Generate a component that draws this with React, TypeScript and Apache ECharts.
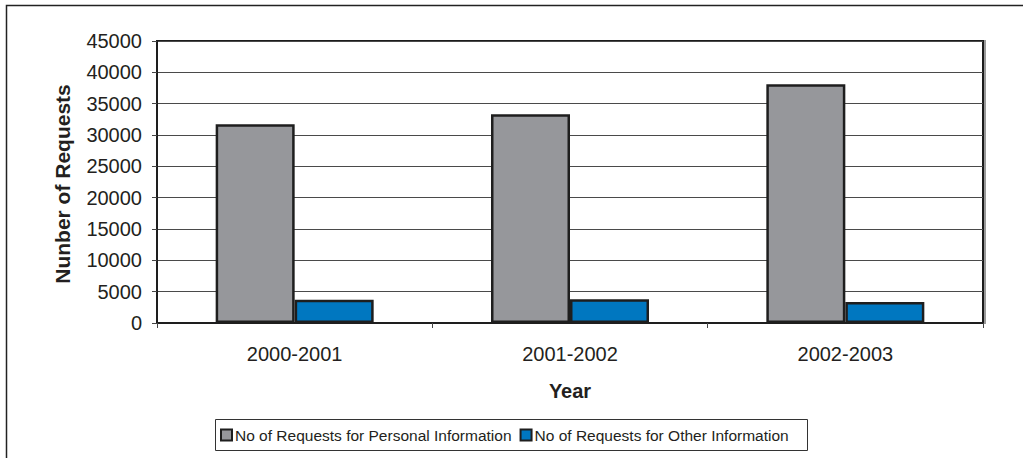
import React, { useEffect, useRef } from "react";
import * as echarts from "echarts";

const years = ["2000-2001", "2001-2002", "2002-2003"];
const personalRequests = [31700, 33300, 38100];
const otherRequests = [3700, 3800, 3350];
const seriesNames = [
  "No of Requests for Personal Information",
  "No of Requests for Other Information",
];

const FONT = "'Liberation Sans', Arial, Helvetica, sans-serif";
const INK = "#231f20";
const EDGE = "#1e1e1e";

export default function App() {
  const ref = useRef<HTMLDivElement>(null);

  useEffect(() => {
    if (!ref.current) return;
    const chart = echarts.init(ref.current, null, { renderer: "svg" });
    chart.setOption({
      animation: false,
      backgroundColor: "#ffffff",
      textStyle: { fontFamily: FONT, color: INK },
      grid: {
        left: 157,
        right: 40,
        top: 41,
        bottom: 135,
        show: true,
        backgroundColor: "#ffffff",
        borderColor: EDGE,
        borderWidth: 2,
        shadowColor: "#9a9a9a",
        shadowOffsetX: 2,
        shadowOffsetY: 0,
        shadowBlur: 0,
      },
      legend: {
        left: 220,
        top: 427,
        itemWidth: 11,
        itemHeight: 11,
        itemGap: 8,
        icon: "rect",
        padding: 0,
        itemStyle: { borderColor: EDGE, borderWidth: 2 },
        textStyle: { fontFamily: FONT, fontSize: 15.5, color: INK, padding: [0, 0, 0, -2] },
        data: seriesNames,
      },
      xAxis: {
        type: "category",
        data: years,
        boundaryGap: true,
        axisLine: { show: true, lineStyle: { color: EDGE, width: 2 } },
        axisTick: { show: true, length: 5, alignWithLabel: false, lineStyle: { color: "#444444", width: 1 } },
        axisLabel: { fontFamily: FONT, fontSize: 20, color: INK, margin: 21 },
        splitLine: { show: false },
      },
      yAxis: {
        type: "value",
        min: 0,
        max: 45000,
        interval: 5000,
        axisLine: { show: true, lineStyle: { color: EDGE, width: 2 } },
        axisTick: { show: true, length: 5, lineStyle: { color: "#444444", width: 1 } },
        axisLabel: {
          fontFamily: FONT,
          fontSize: 20,
          color: INK,
          margin: 15,
          formatter: (v: number) => String(v),
        },
        splitLine: { show: true, lineStyle: { color: "#4a4a4a", width: 1 } },
      },
      series: [
        {
          name: seriesNames[0],
          type: "bar",
          data: personalRequests,
          barWidth: 79,
          barGap: "0%",
          itemStyle: { color: "#96979b", borderColor: EDGE, borderWidth: 2.5 },
        },
        {
          name: seriesNames[1],
          type: "bar",
          data: otherRequests,
          barWidth: 79,
          barGap: "0%",
          itemStyle: { color: "#0077c0", borderColor: EDGE, borderWidth: 2.5 },
        },
      ],
      graphic: [
        {
          type: "rect",
          shape: { x: 6.5, y: 5.5, width: 1030, height: 470 },
          style: { fill: "none", stroke: "#222222", lineWidth: 1.5 },
          silent: true,
        },
        {
          type: "rect",
          shape: { x: 215.5, y: 419.5, width: 592, height: 31 },
          style: { fill: "none", stroke: "#333333", lineWidth: 1 },
          silent: true,
        },
        {
          type: "text",
          x: 62,
          y: 184,
          rotation: Math.PI / 2,
          style: {
            text: "Nunber of Requests",
            font: `bold 21px ${FONT}`,
            fill: INK,
            align: "center",
            verticalAlign: "middle",
          },
        },
        {
          type: "text",
          x: 570,
          y: 391,
          style: {
            text: "Year",
            font: `bold 20px ${FONT}`,
            fill: INK,
            align: "center",
            verticalAlign: "middle",
          },
        },
      ],
    });
    return () => chart.dispose();
  }, []);

  return (
    <div
      ref={ref}
      style={{ position: "fixed", left: 0, top: 0, width: 1023, height: 458 }}
    />
  );
}
